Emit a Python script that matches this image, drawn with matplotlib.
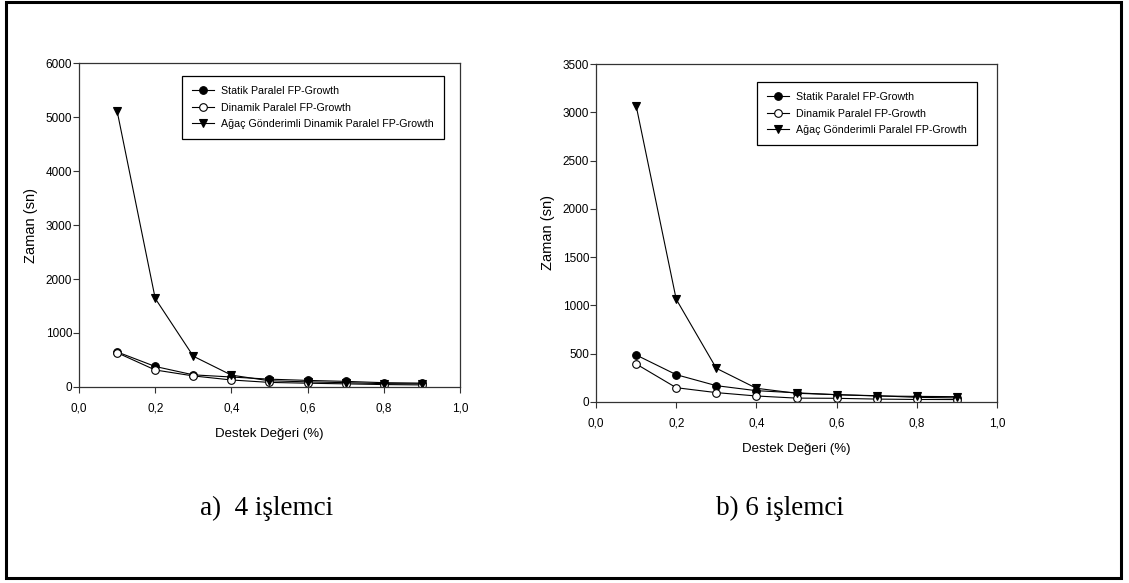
import matplotlib
matplotlib.use("Agg")
import matplotlib.pyplot as plt
from matplotlib.patches import Rectangle

plt.rcParams["font.family"] = ["Liberation Sans", "DejaVu Sans"]

# destek degerleri (%)
destek = [0.1, 0.2, 0.3, 0.4, 0.5, 0.6, 0.7, 0.8, 0.9]

# 4 islemci, sure (sn)
statik_4 = [650, 380, 225, 185, 145, 122, 104, 80, 72]
dinamik_4 = [635, 315, 205, 130, 85, 70, 58, 45, 38]
agac_4 = [5110, 1640, 570, 220, 115, 95, 80, 62, 58]

# 6 islemci, sure (sn)
statik_6 = [487, 283, 169, 117, 95, 75, 65, 48, 42]
dinamik_6 = [394, 148, 97, 62, 40, 38, 30, 26, 25]
agac_6 = [3070, 1064, 349, 142, 90, 76, 62, 58, 55]

xticks = [0.0, 0.2, 0.4, 0.6, 0.8, 1.0]
xtick_labels = ["0,0", "0,2", "0,4", "0,6", "0,8", "1,0"]
yticks_4 = [0, 1000, 2000, 3000, 4000, 5000, 6000]
yticks_6 = [0, 500, 1000, 1500, 2000, 2500, 3000, 3500]

labels_4 = ["Statik Paralel FP-Growth", "Dinamik Paralel FP-Growth",
            "Ağaç Gönderimli Dinamik Paralel FP-Growth"]
labels_6 = ["Statik Paralel FP-Growth", "Dinamik Paralel FP-Growth",
            "Ağaç Gönderimli Paralel FP-Growth"]

fig = plt.figure(figsize=(11.29, 5.83), dpi=100)

# outer frame
fig.patches.append(Rectangle((6 / 1129, 5 / 583), 1115 / 1129, 576 / 583,
                             transform=fig.transFigure, fill=False,
                             edgecolor="black", linewidth=2.2))

ax1 = fig.add_axes([0.0700, 0.3362, 0.3374, 0.5557])
ax2 = fig.add_axes([0.5279, 0.3105, 0.3552, 0.5797])


def draw(ax, series, labels, yticks, leg_anchor):
    styles = [dict(marker="o", mfc="black"),
              dict(marker="o", mfc="white"),
              dict(marker="v", mfc="black")]
    for ys, lab, st in zip(series, labels, styles):
        ax.plot(destek, ys, color="black", lw=0.8, ms=5.5, mec="black",
                mew=0.8, label=lab, **st)
    ax.set_xlim(0, 1.0)
    ax.set_ylim(yticks[0], yticks[-1])
    ax.set_xticks(xticks)
    ax.set_xticklabels(xtick_labels)
    ax.set_yticks(yticks)
    ax.tick_params(direction="out", length=4, width=0.8, labelsize=8.5,
                   color="#333333")
    ax.tick_params(axis="x", pad=7.5)
    ax.tick_params(axis="y", pad=1)
    for sp in ax.spines.values():
        sp.set_linewidth(0.9)
        sp.set_color("#333333")
    ax.set_xlabel("Destek Değeri (%)", fontsize=9.5, labelpad=9.5)
    ax.set_ylabel("Zaman (sn)", fontsize=10.5, labelpad=5.5)
    leg = ax.legend(loc="upper left", bbox_to_anchor=leg_anchor, fontsize=7.7,
                    frameon=True, fancybox=False, edgecolor="black",
                    framealpha=1, handlelength=2.1, handletextpad=0.65,
                    borderpad=0.95, labelspacing=0.6, borderaxespad=0)
    leg.get_frame().set_linewidth(0.9)


draw(ax1, [statik_4, dinamik_4, agac_4], labels_4, yticks_4, (0.270, 0.960))
draw(ax2, [statik_6, dinamik_6, agac_6], labels_6, yticks_6, (0.401, 0.947))

fig.text(267 / 1129, 1 - 508 / 583, "a)  4 işlemci", ha="center", va="center",
         fontsize=19.5, family="Liberation Serif")
fig.text(780 / 1129, 1 - 508 / 583, "b) 6 işlemci", ha="center", va="center",
         fontsize=19.5, family="Liberation Serif")

fig.savefig("out.png", dpi=100)
